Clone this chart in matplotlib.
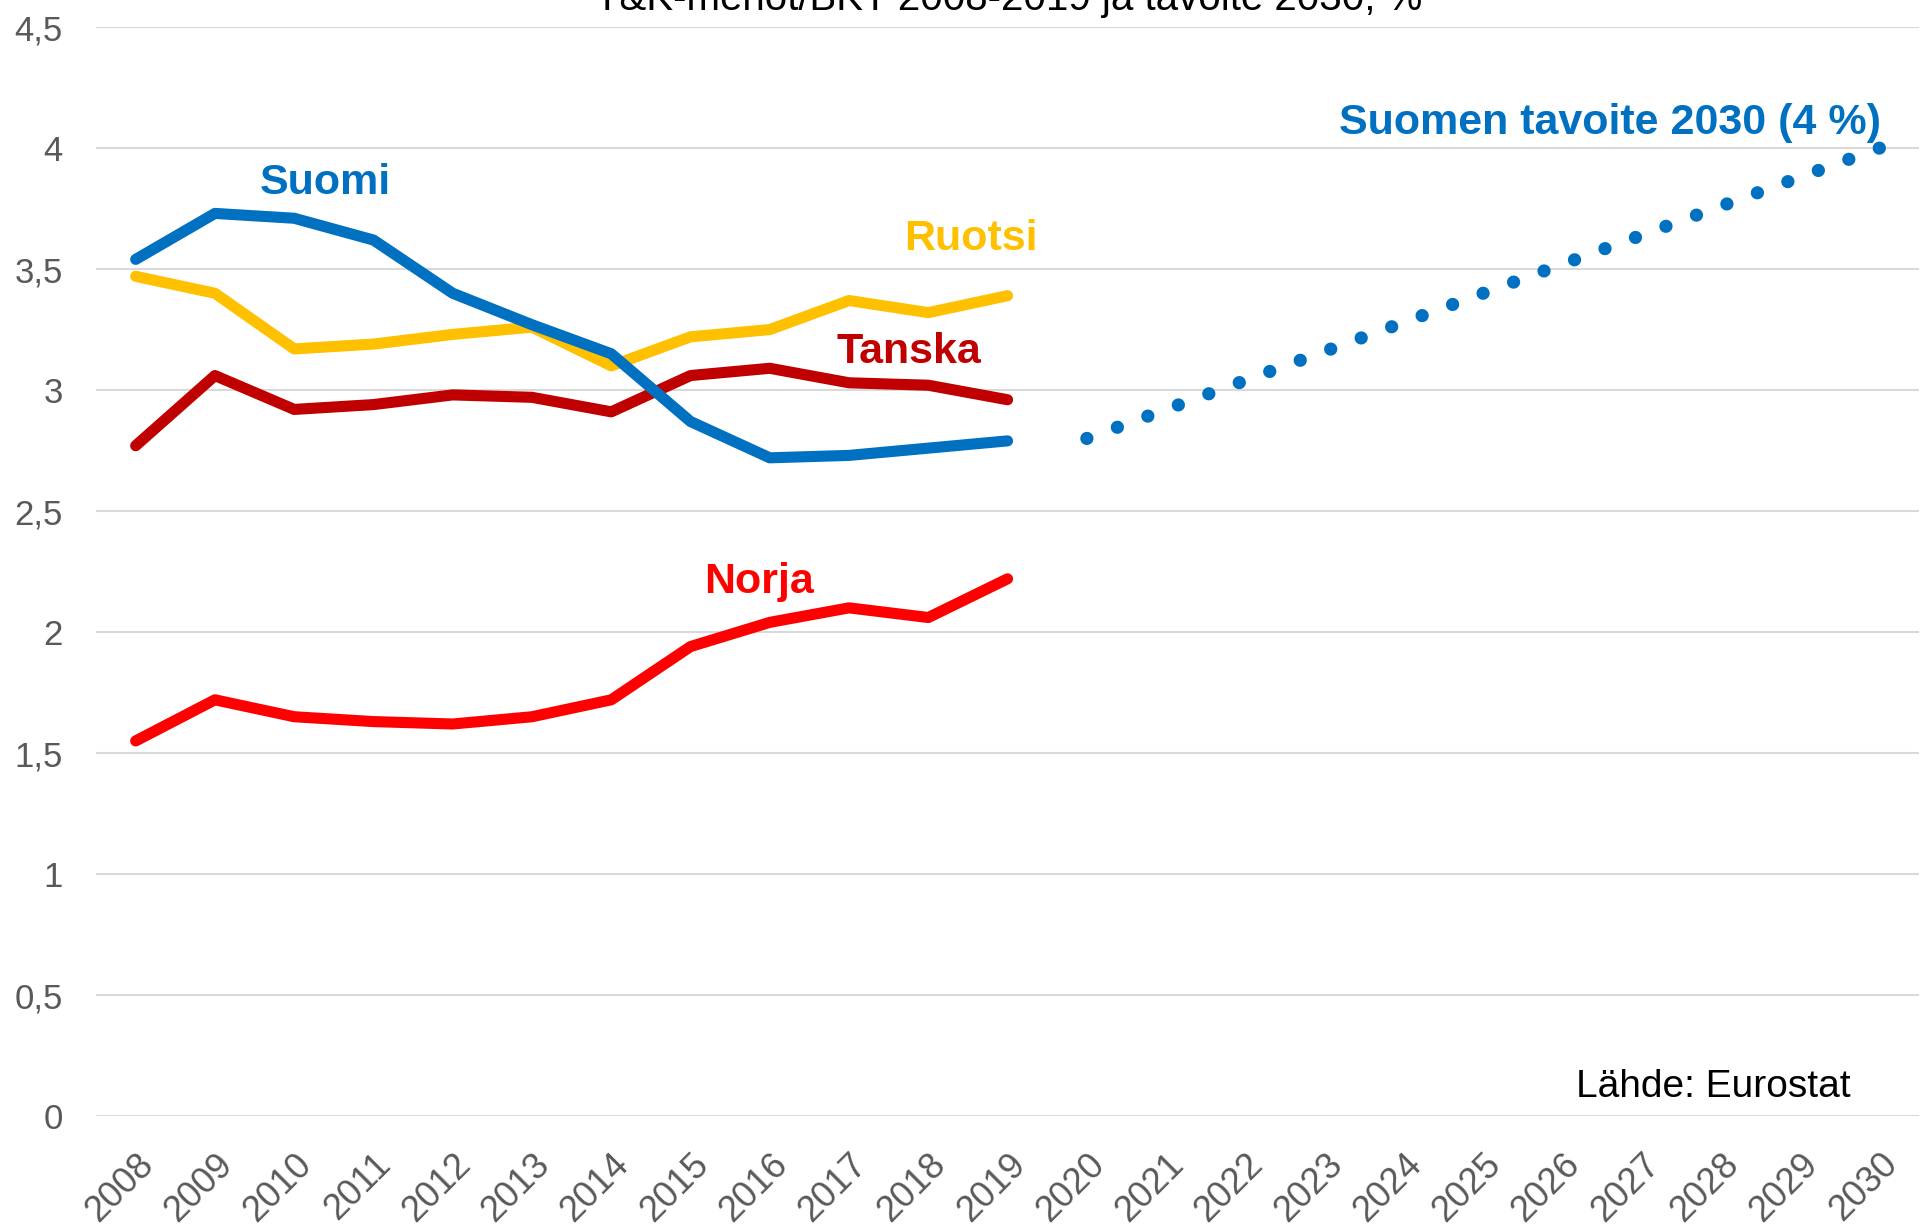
import matplotlib
matplotlib.use("Agg")
import matplotlib.pyplot as plt

plt.rcParams["font.family"] = ["Liberation Sans", "DejaVu Sans"]

years = [str(y) for y in range(2008, 2031)]
hist_years = list(range(2008, 2020))

suomi = [3.54, 3.73, 3.71, 3.62, 3.40, 3.27, 3.15, 2.87, 2.72, 2.73, 2.76, 2.79]
ruotsi = [3.47, 3.40, 3.17, 3.19, 3.23, 3.26, 3.10, 3.22, 3.25, 3.37, 3.32, 3.39]
tanska = [2.77, 3.06, 2.92, 2.94, 2.98, 2.97, 2.91, 3.06, 3.09, 3.03, 3.02, 2.96]
norja = [1.55, 1.72, 1.65, 1.63, 1.62, 1.65, 1.72, 1.94, 2.04, 2.10, 2.06, 2.22]

# Finnish 2030 target path (dotted)
target_years = [2020, 2030]
target_vals = [2.80, 4.00]

yticks = [0, 0.5, 1, 1.5, 2, 2.5, 3, 3.5, 4, 4.5]
ytick_labels = ["0", "0,5", "1", "1,5", "2", "2,5", "3", "3,5", "4", "4,5"]

BLUE = "#0070C0"
YELLOW = "#FFC000"
DARKRED = "#C00000"
RED = "#FF0000"
GREY = "#595959"

fig = plt.figure(figsize=(19.21, 12.31), dpi=100)
ax = fig.add_axes([0.05, 0.0934, 0.949, 0.8846])

def xpos(yrs):
    return [y - 2008 for y in yrs]

lw = 8
style = dict(lw=lw, solid_capstyle="round", solid_joinstyle="round")
ax.plot(xpos(hist_years), norja, color=RED, **style)
ax.plot(xpos(hist_years), tanska, color=DARKRED, **style)
ax.plot(xpos(hist_years), ruotsi, color=YELLOW, **style)
ax.plot(xpos(hist_years), suomi, color=BLUE, **style)
ax.plot(xpos(target_years), target_vals, color=BLUE, lw=9.5, linestyle=(0, (0.01, 2.45)),
        dash_capstyle="round")

ax.set_xlim(-0.5, len(years) - 0.5)
ax.set_ylim(0, 4.5)
ax.set_xticks(range(len(years)))
ax.set_xticklabels(years, rotation=45, ha="right", va="top", rotation_mode="anchor",
                   fontsize=26, color=GREY)
ax.set_yticks(yticks)
ax.set_yticklabels(ytick_labels, fontsize=25, color=GREY)
ax.tick_params(axis="x", length=0, pad=22)
ax.tick_params(axis="y", length=0, pad=24)
ax.grid(axis="y", color="#D9D9D9", lw=1.5)
ax.set_axisbelow(True)
for s in ax.spines.values():
    s.set_visible(False)

# series labels
ax.text(2.39, 3.81, "Suomi", color=BLUE, fontsize=31, fontweight="bold", ha="center")
ax.text(10.54, 3.58, "Ruotsi", color=YELLOW, fontsize=31, fontweight="bold", ha="center")
ax.text(9.75, 3.11, "Tanska", color=DARKRED, fontsize=31, fontweight="bold", ha="center")
ax.text(7.86, 2.16, "Norja", color=RED, fontsize=31, fontweight="bold", ha="center")
ax.text(18.6, 4.06, "Suomen tavoite 2030 (4 %)", color=BLUE, fontsize=31,
        fontweight="bold", ha="center")
ax.text(19.91, 0.08, "Lähde: Eurostat", color="black", fontsize=28, ha="center")

fig.text(0.525, 0.992, "T&K-menot/BKT 2008-2019 ja tavoite 2030, %", fontsize=29,
         color="black", ha="center", va="baseline")

fig.savefig("out.png", dpi=100)
